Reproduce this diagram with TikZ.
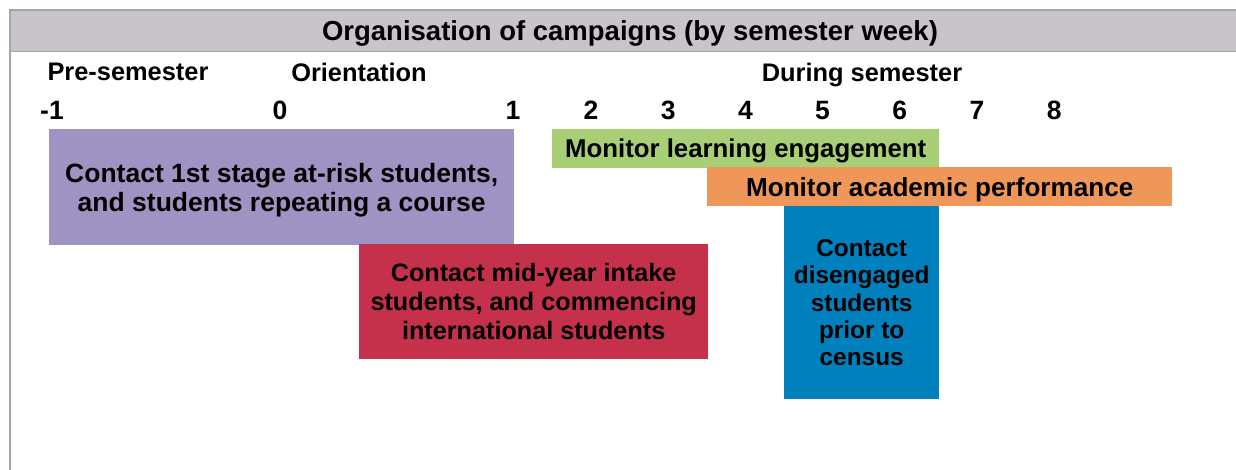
\documentclass[tikz,border=0pt]{standalone}
\usepackage{fontspec}
\setmainfont{Liberation Sans}
\usetikzlibrary{positioning}
\definecolor{cframe}{HTML}{A8A4AC}
\definecolor{chead}{HTML}{C9C4CA}
\definecolor{cpurple}{HTML}{9E93C3}
\definecolor{cred}{HTML}{C5314A}
\definecolor{cgreen}{HTML}{A8CF76}
\definecolor{corange}{HTML}{EF9759}
\definecolor{cblue}{HTML}{0080BD}
\newcommand{\bsize}[2]{\fontsize{#1}{#2}\selectfont\bfseries}
\tikzset{
  tbold/.style={font=\bsize{26.5}{29}, inner sep=0pt, text depth=0pt},
  period/.style={tbold, font=\bsize{25.4}{29}, anchor=center},
  week/.style={tbold, anchor=center},
  bar/.style={tbold, anchor=north west, align=center, text=black},
}

\begin{document}
\begin{tikzpicture}[x=1pt, y=-1pt]
  \useasboundingbox (0,0) rectangle (1236,470);
  % header band and frame
  \fill[chead] (10,10) rectangle (1236,52);
  \draw[cframe, line width=2pt] (1236,10) -- (10,10) -- (10,470);
  \draw[cframe, line width=1pt] (10,52) -- (1236,52);
  \node[tbold, font=\bsize{27.5}{30}] (title) at (630,31)
    {Organisation of campaigns (by semester week)};
  % periods
  \node[period] (pre) at (128,72) {Pre-semester};
  \node[period] (ori) at (359,72) {Orientation};
  \node[period] (dur) at (862,72) {During semester};
  % week numbers
  \node[week] (wm1) at (52,110) {-1};
  \node[week] (w0) at (280,110) {0};
  \node[week] (w1) at (513,110) {1};
  \foreach \i in {2,...,8}
    \node[week] (w\i) at ({591+77.2*(\i-2)},110) {\i};
  % campaigns
  \node[bar, fill=cpurple, minimum width=465pt, minimum height=116pt] (first) at (49,129)
    {Contact 1st stage at-risk students,\\and students repeating a course};
  \node[bar, fill=cgreen, minimum width=387pt, minimum height=38.5pt,
        font=\bsize{25.8}{29}] (engage) at (552,129)
    {Monitor learning engagement};
  \node[bar, fill=corange, minimum width=465pt, minimum height=39pt,
        font=\bsize{26.1}{29}] (perf) at (707,167)
    {Monitor academic performance};
  \node[bar, fill=cred, minimum width=349pt, minimum height=115pt,
        font=\bsize{25.2}{29}] (midyear) at (359,244)
    {Contact mid-year intake\\students, and commencing\\international students};
  \node[bar, fill=cblue, minimum width=155pt, minimum height=193pt,
        font=\bsize{24.4}{27.3}] (census) at (784,206)
    {Contact\\disengaged\\students\\prior to\\census};
\end{tikzpicture}
\end{document}
